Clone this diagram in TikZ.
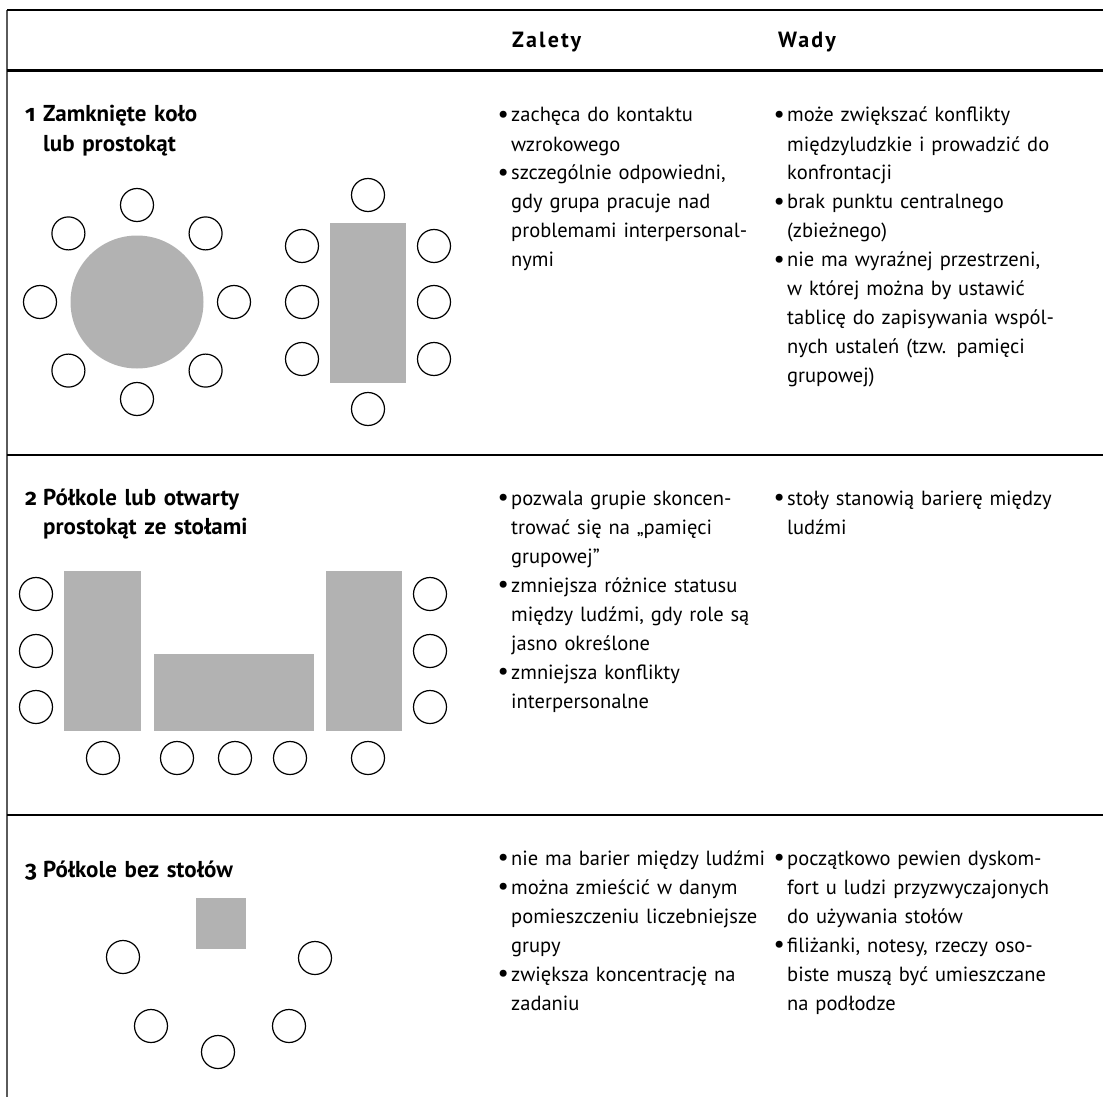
\documentclass[tikz,border=0pt]{standalone}
\usepackage{fontspec}
\setmainfont{PT Sans}
\newfontfamily\oldnum{Fira Sans}[Numbers=OldStyle]
\usetikzlibrary{calc}
\definecolor{TableGray}{HTML}{B2B2B2}
\definecolor{FrameGray}{HTML}{5A5A5A}
\newcommand{\bul}{\makebox[11pt][l]{\hspace*{-2.5pt}\raisebox{-0.3pt}{\fontsize{25}{25}\selectfont\textbullet}}}
\newcommand{\nob}{\hspace*{11pt}}
\newcommand{\nr}[1]{\makebox[18pt][l]{{\oldnum\bfseries #1}}}
\newcommand{\nonr}{\hspace*{18pt}}
\tikzset{
  cell/.style={anchor=base west, align=left, text width=400pt, inner sep=0pt,
               font=\fontsize{20.5}{29}\selectfont},
  rowlabel/.style={cell, font=\fontsize{23}{29}\selectfont\bfseries},
  head/.style={anchor=base west, inner sep=0pt,
               font=\fontsize{22}{24}\selectfont\bfseries\addfontfeature{LetterSpace=10}},
  chair/.style={circle, draw, fill=white, line width=1.2pt, minimum size=33pt, inner sep=0pt},
  tbl/.style={rectangle, fill=TableGray, inner sep=0pt},
  rule/.style={line width=1.8pt}
}

\begin{document}
\begin{tikzpicture}[x=1pt,y=-1pt]
  \useasboundingbox (0,0) rectangle (1103,1097);
  % frame and row rules
  \draw[FrameGray,line width=2pt] (7,10) -- (7,1097);
  \draw[line width=1.2pt] (7,10) -- (1103,10);
  \draw[line width=3pt] (7,71) -- (1103,71);
  \draw[rule] (7,455) -- (1103,455);
  \draw[rule] (7,815) -- (1103,815);

  \node[head] (hz) at (512,48) {Zalety};
  \node[head] (hw) at (778,48) {Wady};

  % row 1
  \node[rowlabel] (l1) at (25,122) {\nr{1}Zamknięte koło\\ \nonr lub prostokąt};
  \node[cell] (z1) at (500,122) {\bul zachęca do kontaktu\\ \nob wzrokowego\\
    \bul szczególnie odpowiedni,\\ \nob gdy grupa pracuje nad\\
    \nob problemami interpersonal-\\ \nob nymi};
  \node[cell] (w1) at (776,122) {\bul może zwiększać konflikty\\
    \nob międzyludzkie i prowadzić do\\ \nob konfrontacji\\
    \bul brak punktu centralnego\\ \nob (zbieżnego)\\
    \bul nie ma wyraźnej przestrzeni,\\ \nob w której można by ustawić\\
    \nob tablicę do zapisywania wspól-\\ \nob nych ustaleń (tzw. pamięci\\
    \nob grupowej)};

  \node[tbl,circle,minimum size=133pt] (rtab) at (137,302) {};
  \foreach \a in {0,45,...,315}
    \node[chair] (rc\a) at ($(rtab)+(\a:97)$) {};

  \node[tbl,minimum width=76pt,minimum height=160pt] (ktab) at (368,303) {};
  \node[chair] (kc-n) at (368,195) {};
  \node[chair] (kc-s) at (368,409) {};
  \foreach \y [count=\i] in {246,302,359} {
    \node[chair] (kc-w\i) at (302,\y) {};
    \node[chair] (kc-e\i) at (434,\y) {};
  }

  % row 2
  \node[rowlabel] (l2) at (25,505) {\nr{2}Półkole lub otwarty\\ \nonr prostokąt ze stołami};
  \node[cell] (z2) at (500,505) {\bul pozwala grupie skoncen-\\
    \nob trować się na „pamięci\\ \nob grupowej”\\
    \bul zmniejsza różnice statusu\\ \nob między ludźmi, gdy role są\\
    \nob jasno określone\\
    \bul zmniejsza konflikty\\ \nob interpersonalne};
  \node[cell] (w2) at (776,505) {\bul stoły stanowią barierę między\\ \nob ludźmi};

  \node[tbl,minimum width=77pt,minimum height=160pt] (utab-l) at (102.5,651) {};
  \node[tbl,minimum width=160pt,minimum height=77pt] (utab-m) at (234,692.5) {};
  \node[tbl,minimum width=76pt,minimum height=160pt] (utab-r) at (364,651) {};
  \foreach \y [count=\i] in {594,651,707} {
    \node[chair] (uc-w\i) at (36,\y) {};
    \node[chair] (uc-e\i) at (430,\y) {};
  }
  \foreach \x [count=\i] in {103,177,235,290,368}
    \node[chair] (uc-s\i) at (\x,758) {};

  % row 3
  \node[rowlabel] (l3) at (25,877) {\nr{3}Półkole bez stołów};
  \node[cell] (z3) at (500,865) {\bul nie ma barier między ludźmi\\
    \bul można zmieścić w danym\\ \nob pomieszczeniu liczebniejsze\\ \nob grupy\\
    \bul zwiększa koncentrację na\\ \nob zadaniu};
  \node[cell] (w3) at (776,865) {\bul początkowo pewien dyskom-\\
    \nob fort u ludzi przyzwyczajonych\\ \nob do używania stołów\\
    \bul filiżanki, notesy, rzeczy oso-\\ \nob biste muszą być umieszczane\\
    \nob na podłodze};

  \node[tbl,minimum width=50pt,minimum height=51pt] (stab) at (221,923.5) {};
  \foreach \p [count=\i] in {(123,957),(315,958),(151,1026),(289,1026),(218,1052)}
    \node[chair] (sc\i) at \p {};
\end{tikzpicture}
\end{document}
